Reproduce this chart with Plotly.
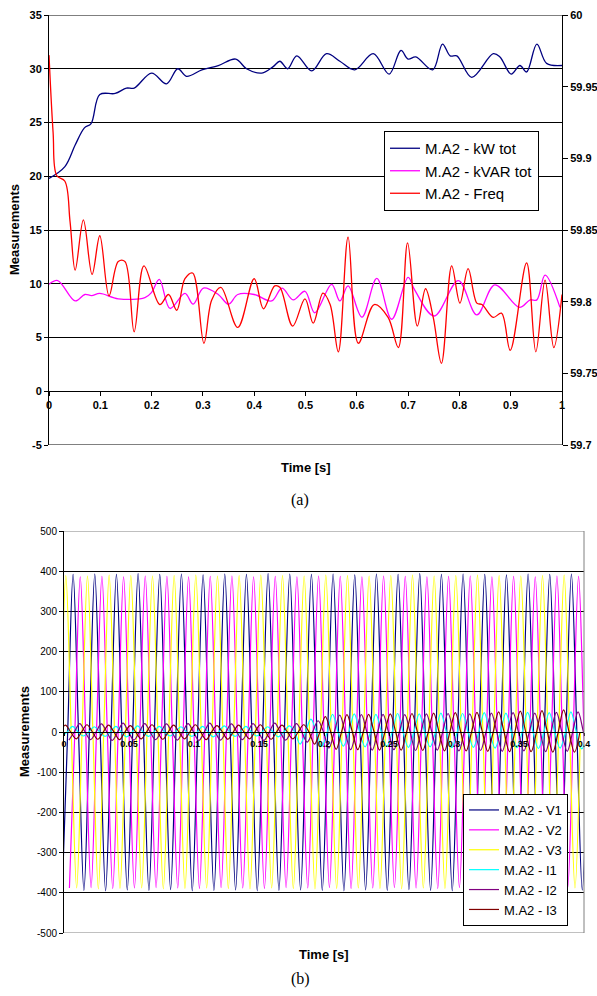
import plotly.graph_objects as go

W, H = 597, 996

# ---------------- (a) top chart data ----------------
kw_t = [0, 0.031, 0.051, 0.069, 0.082, 0.099, 0.129, 0.151, 0.166, 0.200, 0.229, 0.251,
        0.268, 0.298, 0.330, 0.364, 0.385, 0.415, 0.437, 0.450, 0.465, 0.483, 0.512,
        0.541, 0.567, 0.596, 0.632, 0.663, 0.686, 0.700, 0.715, 0.748, 0.767, 0.782,
        0.795, 0.824, 0.866, 0.879, 0.901, 0.918, 0.931, 0.951, 0.970, 1.0]
kw_v = [19.8, 20.9, 22.9, 24.5, 24.9, 27.6, 27.7, 28.2, 28.2, 29.6, 28.6, 30.0,
        29.3, 29.9, 30.3, 30.9, 30.0, 29.6, 30.2, 30.7, 30.0, 31.2, 29.8,
        31.4, 30.7, 29.9, 31.4, 29.5, 31.7, 30.9, 31.1, 29.9, 32.3, 31.2,
        31.2, 29.2, 31.4, 31.1, 29.5, 30.3, 29.7, 32.3, 30.5, 30.3]

kvar_t = [0, 0.017, 0.051, 0.070, 0.083, 0.099, 0.135, 0.187, 0.200, 0.215, 0.236, 0.265,
          0.281, 0.301, 0.330, 0.350, 0.368, 0.400, 0.434, 0.454, 0.476, 0.499, 0.518,
          0.551, 0.567, 0.583, 0.610, 0.639, 0.668, 0.700, 0.713, 0.751, 0.798, 0.834,
          0.869, 0.917, 0.938, 0.951, 0.967, 0.996]
kvar_v = [9.95, 10.3, 8.4, 9.0, 8.9, 9.1, 8.6, 8.7, 9.2, 10.4, 7.7, 9.1,
          8.1, 9.6, 9.0, 8.1, 9.0, 9.0, 8.4, 9.6, 8.5, 9.3, 7.3,
          9.95, 8.4, 9.8, 6.9, 10.5, 6.7, 10.6, 9.4, 7.0, 10.3, 7.1,
          9.9, 7.8, 8.5, 8.5, 10.8, 7.8]

freq_t = [0, 0.008, 0.015, 0.031, 0.041, 0.051, 0.067, 0.084, 0.099, 0.117, 0.135, 0.148,
          0.166, 0.185, 0.216, 0.233, 0.249, 0.265, 0.280, 0.302, 0.317, 0.335, 0.368,
          0.400, 0.418, 0.440, 0.450, 0.475, 0.499, 0.515, 0.534, 0.548, 0.564, 0.583,
          0.603, 0.634, 0.661, 0.681, 0.699, 0.718, 0.734, 0.749, 0.765, 0.785, 0.801,
          0.817, 0.834, 0.844, 0.866, 0.882, 0.899, 0.931, 0.949, 0.967, 0.984, 1.0]
freq_v = [59.972, 59.918, 59.888, 59.884, 59.856, 59.822, 59.857, 59.819, 59.846, 59.804,
          59.828, 59.828, 59.779, 59.825, 59.798, 59.805, 59.794, 59.816, 59.820, 59.771,
          59.801, 59.810, 59.782, 59.816, 59.795, 59.811, 59.810, 59.783, 59.802, 59.785,
          59.806, 59.798, 59.765, 59.845, 59.771, 59.798, 59.789, 59.768, 59.841, 59.783,
          59.809, 59.789, 59.757, 59.825, 59.799, 59.823, 59.799, 59.798, 59.789, 59.792,
          59.766, 59.827, 59.765, 59.815, 59.768, 59.805]

top_x_ticks = [0, 0.1, 0.2, 0.3, 0.4, 0.5, 0.6, 0.7, 0.8, 0.9, 1.0]
top_x_text = ["0", "0.1", "0.2", "0.3", "0.4", "0.5", "0.6", "0.7", "0.8", "0.9", "1"]
top_y_ticks = [-5, 0, 5, 10, 15, 20, 25, 30, 35]
top_y_text = ["-5", "0", "5", "10", "15", "20", "25", "30", "35"]
top_y2_ticks = [59.7, 59.75, 59.8, 59.85, 59.9, 59.95, 60.0]
top_y2_text = ["59.7", "59.75", "59.8", "59.85", "59.9", "59.95", "60"]

# ---------------- (b) bottom chart data ----------------
# 60 Hz record: time of first positive peak of each channel, and the
# successive positive peaks / negative troughs
line_period = 1 / 60.0
v1_first_peak = 0.0070
v2_first_peak = 0.0125
v3_first_peak = 0.0014
i1_first_peak = 0.0066
i2_first_peak = 0.0121
i3_first_peak = 0.0010

v1_peaks = [392, 393, 392, 394, 392, 393, 391, 393, 392, 394, 393, 392,
            393, 391, 393, 392, 394, 392, 393, 392, 391, 393, 392, 393]
v1_troughs = [-393, -394, -395, -393, -394, -392, -395, -394, -393, -395, -394, -393,
              -394, -395, -393, -394, -392, -394, -395, -393, -394, -393, -395, -394, -393]
v2_peaks = [386, 387, 386, 388, 387, 386, 387, 388, 386, 387, 386, 388,
            387, 386, 388, 387, 386, 387, 388, 386, 387, 386, 388, 387]
v2_troughs = [-388, -387, -389, -388, -387, -388, -389, -387, -388, -389, -387, -388,
              -387, -389, -388, -387, -388, -389, -387, -388, -389, -387, -388, -387, -388]
v3_peaks = [389, 388, 390, 389, 388, 389, 390, 388, 389, 390, 389, 388,
            390, 389, 388, 389, 390, 388, 389, 390, 389, 388, 389, 390]
v3_troughs = [-389, -388, -390, -389, -388, -390, -389, -388, -389, -390, -388, -389,
              -390, -389, -388, -389, -390, -388, -389, -390, -389, -388, -390, -389, -388]
i1_peaks = [14, 13, 14, 15, 14, 13, 14, 15, 14, 13, 15, 32,
            44, 45, 44, 46, 45, 47, 46, 48, 47, 49, 48, 50]
i1_troughs = [-11, -10, -11, -12, -11, -10, -11, -12, -11, -10, -12, -30,
              -36, -35, -37, -36, -38, -37, -39, -38, -40, -39, -41, -40, -42]
i2_peaks = [21, 20, 22, 21, 20, 21, 22, 20, 21, 22, 21, 28,
            42, 43, 44, 43, 45, 46, 45, 47, 48, 47, 49, 50]
i2_troughs = [-20, -19, -21, -20, -19, -20, -21, -20, -19, -21, -20, -25,
              -40, -44, -45, -44, -46, -45, -47, -46, -48, -47, -49, -48, -50]
i3_peaks = [17, 18, 17, 16, 18, 17, 18, 16, 17, 18, 17, 18,
            38, 43, 44, 45, 46, 47, 48, 49, 50, 52, 53, 55]
i3_troughs = [-18, -17, -18, -19, -17, -18, -17, -19, -18, -17, -18, -17,
              -30, -43, -44, -45, -45, -46, -47, -47, -48, -49, -49, -50, -50]

bot_x_ticks = [0, 0.05, 0.1, 0.15, 0.2, 0.25, 0.3, 0.35, 0.4]
bot_x_text = ["0", "0.05", "0.1", "0.15", "0.2", "0.25", "0.3", "0.35", "0.4"]
bot_y_ticks = [-500, -400, -300, -200, -100, 0, 100, 200, 300, 400, 500]
bot_y_text = ["-500", "-400", "-300", "-200", "-100", "0", "100", "200", "300", "400", "500"]


def extremes(t_peak, peaks, troughs, period):
    """Place the read peaks/troughs and the zero crossings between them."""
    ts, vs = [], []
    for k, lo in enumerate(troughs):
        tl = t_peak + (k - 0.5) * period
        ts += [tl, tl + period / 4]
        vs += [lo, 0.0]
        if k < len(peaks):
            ts += [tl + period / 2, tl + 3 * period / 4]
            vs += [peaks[k], 0.0]
    return ts, vs


FONT = "Liberation Sans, Arial, sans-serif"
fig = go.Figure()

# top traces
fig.add_trace(go.Scatter(x=kw_t, y=kw_v, mode="lines", name="M.A2 - kW tot",
                         line=dict(color="#000080", width=1.3, shape="spline", smoothing=1.0),
                         xaxis="x", yaxis="y", legend="legend"))
fig.add_trace(go.Scatter(x=kvar_t, y=kvar_v, mode="lines", name="M.A2 - kVAR tot",
                         line=dict(color="#FF00FF", width=1.3, shape="spline", smoothing=1.0),
                         xaxis="x", yaxis="y", legend="legend"))
fig.add_trace(go.Scatter(x=freq_t, y=freq_v, mode="lines", name="M.A2 - Freq",
                         line=dict(color="#FF0000", width=1.3, shape="spline", smoothing=1.0),
                         xaxis="x", yaxis="y2", legend="legend"))

# bottom traces
waves = [
    ("M.A2 - V1", "#000080", v1_first_peak, v1_peaks, v1_troughs),
    ("M.A2 - V2", "#FF00FF", v2_first_peak, v2_peaks, v2_troughs),
    ("M.A2 - V3", "#FFFF00", v3_first_peak, v3_peaks, v3_troughs),
    ("M.A2 - I1", "#00FFFF", i1_first_peak, i1_peaks, i1_troughs),
    ("M.A2 - I2", "#800080", i2_first_peak, i2_peaks, i2_troughs),
    ("M.A2 - I3", "#800000", i3_first_peak, i3_peaks, i3_troughs),
]
for name, col, t0, pk, tr in waves:
    ts, vs = extremes(t0, pk, tr, line_period)
    fig.add_trace(go.Scatter(x=ts, y=vs, mode="lines", name=name,
                             line=dict(color=col, width=1.2, shape="spline", smoothing=1.0),
                             xaxis="x2", yaxis="y3", legend="legend2"))

# domains in paper coords
tx = [49 / W, 562 / W]
ty = [1 - 445 / H, 1 - 15 / H]
bx = [64 / W, 584 / W]
by = [1 - 933 / H, 1 - 531 / H]
top_zero = ty[0] + (0 - (-5)) / 40 * (ty[1] - ty[0])
bot_zero = (by[0] + by[1]) / 2

tick_bold11 = dict(family=FONT, size=11, color="black", weight="bold")

fig.update_layout(
    template="none",
    width=W, height=H, autosize=False,
    margin=dict(l=0, r=0, t=0, b=0, autoexpand=False),
    paper_bgcolor="white", plot_bgcolor="white",
    font=dict(family=FONT, color="black"),
    showlegend=True,
    xaxis=dict(domain=tx, range=[0, 1], anchor="free", position=top_zero, automargin=False,
               showline=True, linecolor="black", linewidth=1,
               ticks="outside", ticklen=4, tickcolor="black",
               tickvals=top_x_ticks, ticktext=top_x_text, tickfont=tick_bold11,
               showgrid=False, zeroline=False, fixedrange=True),
    yaxis=dict(domain=ty, range=[-5, 35], anchor="x", automargin=False,
               showline=True, linecolor="black", linewidth=1,
               ticks="outside", ticklen=4, tickcolor="black",
               tickvals=top_y_ticks, ticktext=top_y_text, tickfont=tick_bold11,
               showgrid=True, gridcolor="black", gridwidth=1, zeroline=False),
    yaxis2=dict(overlaying="y", side="right", anchor="x", range=[59.7, 60.0], automargin=False,
                showline=True, linecolor="black", linewidth=1,
                ticks="outside", ticklen=5, tickcolor="black",
                tickvals=top_y2_ticks, ticktext=top_y2_text, tickfont=tick_bold11,
                showgrid=False, zeroline=False),
    xaxis2=dict(domain=bx, range=[0, 0.4], anchor="free", position=bot_zero, automargin=False,
                showline=True, linecolor="black", linewidth=1,
                ticks="outside", ticklen=3, tickcolor="black",
                tickvals=bot_x_ticks, ticktext=bot_x_text,
                tickfont=dict(family=FONT, size=9, color="black", weight="bold"),
                showgrid=False, zeroline=False),
    yaxis3=dict(domain=by, range=[-500, 500], anchor="x2", automargin=False,
                showline=True, linecolor="black", linewidth=1,
                ticks="outside", ticklen=4, tickcolor="black",
                tickvals=bot_y_ticks, ticktext=bot_y_text,
                tickfont=dict(family=FONT, size=10, color="black"),
                showgrid=True, gridcolor="black", gridwidth=1, zeroline=False),
    legend=dict(x=384 / W, y=1 - 131 / H, xanchor="left", yanchor="top",
                bordercolor="black", borderwidth=1, bgcolor="white",
                font=dict(family=FONT, size=15, color="black"), tracegroupgap=0),
    legend2=dict(x=463 / W, y=1 - 794 / H, xanchor="left", yanchor="top",
                 bordercolor="black", borderwidth=1, bgcolor="white",
                 font=dict(family=FONT, size=13, color="black"), tracegroupgap=0),
)

# plot-area frame lines
shapes = [
    dict(type="line", xref="x domain", yref="y", x0=0, x1=1, y0=35, y1=35,
         line=dict(color="black", width=1), layer="above"),
    dict(type="line", xref="x domain", yref="y", x0=0, x1=1, y0=-5, y1=-5,
         line=dict(color="black", width=1), layer="above"),
    dict(type="line", xref="x2 domain", yref="y3", x0=0, x1=1, y0=500, y1=500,
         line=dict(color="#808080", width=1), layer="above"),
    dict(type="line", xref="x2 domain", yref="y3", x0=0, x1=1, y0=-500, y1=-500,
         line=dict(color="#808080", width=1), layer="above"),
    dict(type="line", xref="x2 domain", yref="y3", x0=1, x1=1, y0=-500, y1=500,
         line=dict(color="#808080", width=1), layer="above"),
]
fig.update_layout(shapes=shapes)

title_font = dict(family=FONT, size=13, color="black", weight="bold")
cap_font = dict(family="Liberation Serif, Times New Roman, serif", size=16, color="black")
ann = [
    dict(text="Measurements", x=15 / W, y=1 - 230 / H, textangle=-90, font=title_font),
    dict(text="Time [s]", x=305.5 / W, y=1 - 467 / H, font=title_font),
    dict(text="(a)", x=300 / W, y=1 - 500 / H, font=cap_font),
    dict(text="Measurements", x=24 / W, y=1 - 732 / H, textangle=-90, font=title_font),
    dict(text="Time [s]", x=324 / W, y=1 - 954 / H, font=title_font),
    dict(text="(b)", x=300 / W, y=1 - 979 / H, font=cap_font),
]
for a in ann:
    a.update(xref="paper", yref="paper", showarrow=False, xanchor="center", yanchor="middle")
fig.update_layout(annotations=ann)

fig.write_html("out.html",
               config={"displayModeBar": False, "staticPlot": True},
               post_script="document.body.style.margin='0';document.body.style.overflow='hidden';")
